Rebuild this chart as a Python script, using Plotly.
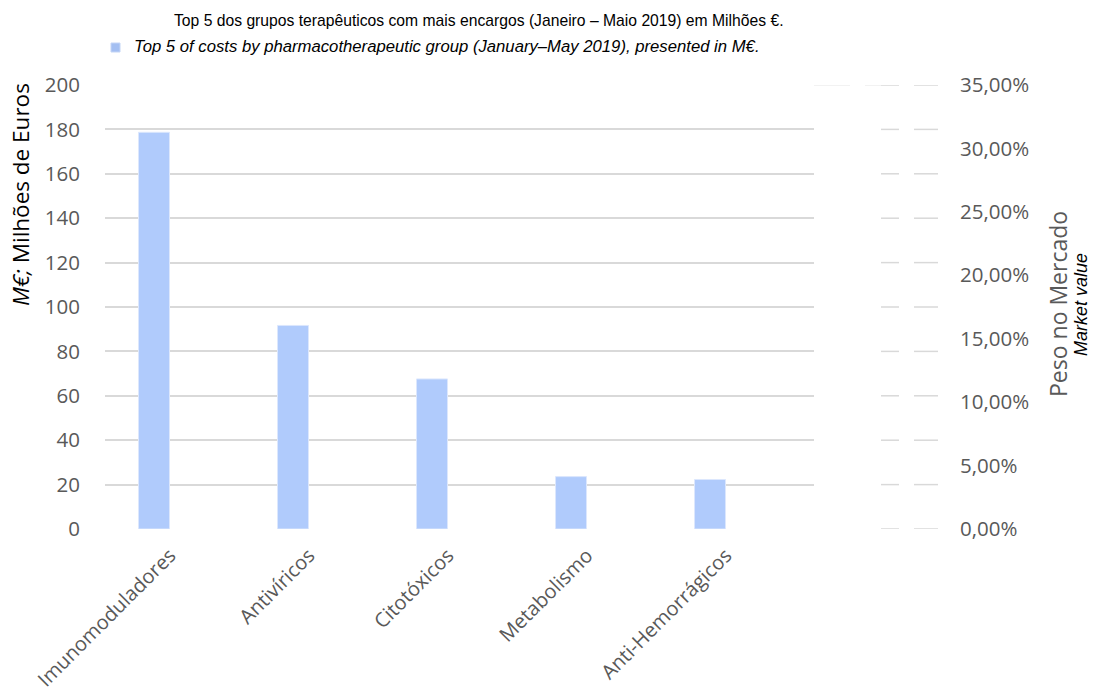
import plotly.graph_objects as go

categories = ["Imunomoduladores", "Antivíricos", "Citotóxicos", "Metabolismo", "Anti-Hemorrágicos"]
values = [178.7, 91.7, 67.6, 23.6, 22.3]
left_ticks = [0, 20, 40, 60, 80, 100, 120, 140, 160, 180, 200]
right_ticks = [0, 0.05, 0.10, 0.15, 0.20, 0.25, 0.30, 0.35]

title_pt = "Top 5 dos grupos terapêuticos com mais encargos (Janeiro – Maio 2019) em Milhões €."
title_en = "Top 5 of costs by pharmacotherapeutic group (January–May 2019), presented in M€."
ytitle_left = "<i>M€;</i> Milhões de Euros"
ytitle_right = "Peso no Mercado"
ytitle_right_en = "Market value"

W, H = 1095, 695
L, R, T, B = 105, 157, 85, 166
pw = W - L - R
ph = H - T - B
GRID = "#d9d9d9"
TXT = "#595959"
FONT = "Open Sans"
NARROW = "Liberation Sans Narrow, Arial Narrow, Liberation Sans, Arial"
TICK = 20.5

def px_x(p):
    return (p - L) / pw

def px_y(p):
    return 1 - (p - T) / ph

fig = go.Figure()
fig.add_trace(go.Bar(
    x=categories, y=values, width=0.223,
    marker=dict(color="#b0cbfc", line=dict(color="#dce7fd", width=1)),
    showlegend=False, hoverinfo="x+y",
))
# invisible trace carrying the category labels on the label axis
fig.add_trace(go.Scatter(
    x=categories, y=values, xaxis="x2", mode="markers",
    marker=dict(opacity=0), showlegend=False, hoverinfo="skip",
))
# secondary axis trace (invisible) so right axis is rendered
fig.add_trace(go.Scatter(
    x=categories, y=[None] * len(categories), yaxis="y2", mode="markers",
    showlegend=False, hoverinfo="skip",
))

xdom = [0, px_x(814)]
fig.update_layout(
    width=W, height=H,
    margin=dict(l=L, r=R, t=T, b=B, autoexpand=False),
    paper_bgcolor="white", plot_bgcolor="white",
    separators=",.",
    xaxis=dict(
        domain=xdom, type="category", range=[-0.3525, 4.748], automargin=False,
        showticklabels=False, showgrid=False, zeroline=False, showline=False, ticks="",
    ),
    xaxis2=dict(
        overlaying="x", anchor="y", type="category", range=[-0.4675, 4.633], automargin=False,
        categoryorder="array", categoryarray=categories,
        tickangle=-45, showgrid=False, zeroline=False, showline=False, ticks="",
        tickfont=dict(family=FONT, size=20, color=TXT),
        ticklabelstandoff=10,
    ),
    yaxis=dict(
        range=[0, 200], tickvals=left_ticks, showgrid=True, gridcolor=GRID, gridwidth=1.5,
        zeroline=False, showline=False, ticks="", automargin=False,
        tickfont=dict(family=FONT, size=TICK, color=TXT), ticklabelstandoff=24,
    ),
    yaxis2=dict(
        overlaying="y", side="right", anchor="free", position=1, range=[0, 0.35],
        tickvals=right_ticks, tickformat=".2%", showgrid=False, zeroline=False,
        showline=False, ticks="", automargin=False,
        tickfont=dict(family=FONT, size=TICK, color=TXT), ticklabelstandoff=21,
    ),
)

shapes = []
for v in left_ticks:
    for a, b in [(881, 899), (914, 938)]:
        shapes.append(dict(type="line", xref="paper", yref="y", x0=px_x(a), x1=px_x(b),
                           y0=v, y1=v, line=dict(color=GRID, width=1.5)))
for a, b in [(814, 850), (865, 881)]:
    shapes.append(dict(type="line", xref="paper", yref="y", x0=px_x(a), x1=px_x(b),
                       y0=200, y1=200, line=dict(color="#e6e6e6", width=1)))
# legend swatch
shapes.append(dict(type="rect", xref="paper", yref="paper",
                   x0=px_x(111), x1=px_x(120), y0=px_y(52), y1=px_y(43),
                   fillcolor="#a4bff2", line=dict(color="#c4d5f6", width=1)))
fig.update_layout(shapes=shapes)

ann = [
    dict(text=title_pt, x=px_x(172), y=px_y(20), xanchor="left", yanchor="middle",
         font=dict(family=NARROW, size=15.7, color="#000000")),
    dict(text="<i>" + title_en + "</i>", x=px_x(132), y=px_y(47), xanchor="left", yanchor="middle",
         font=dict(family=NARROW, size=16.7, color="#000000")),
    dict(text=ytitle_left, x=px_x(20), y=px_y(195), xanchor="center", yanchor="middle",
         textangle=-90, font=dict(family=FONT, size=22.5, color="#000000")),
    dict(text=ytitle_right, x=px_x(1058), y=px_y(304), xanchor="center", yanchor="middle",
         textangle=-90, font=dict(family=FONT, size=23, color=TXT)),
    dict(text="<i>" + ytitle_right_en + "</i>", x=px_x(1081), y=px_y(305), xanchor="center", yanchor="middle",
         textangle=-90, font=dict(family=NARROW, size=18, color="#000000")),
]
for a in ann:
    a.update(xref="paper", yref="paper", showarrow=False)
fig.update_layout(annotations=ann)

fig.write_html("out.html")
